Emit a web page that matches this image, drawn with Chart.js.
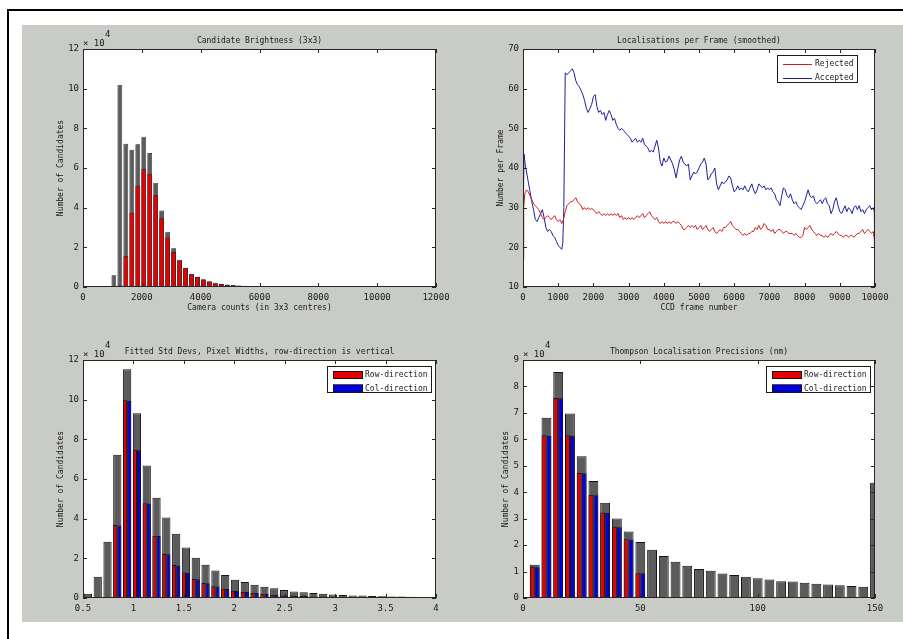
<!DOCTYPE html>
<html>
<head>
<meta charset="utf-8">
<script src="https://cdn.jsdelivr.net/npm/chart.js@4.4.1/dist/chart.umd.min.js"></script>
<style>
html, body { margin: 0; padding: 0; background: #fff; }
#fig { position: relative; width: 903px; height: 639px; overflow: hidden; background: #fff; }
#lineTop { position: absolute; left: 7px; top: 9px; width: 896px; height: 2px; background: #000; }
#lineLeft { position: absolute; left: 7px; top: 9px; width: 2px; height: 630px; background: #000; }
#panel { position: absolute; left: 22px; top: 25px; width: 881px; height: 597px; background: #c9ccc6; }
canvas { position: absolute; }
</style>
</head>
<body>
<div id="fig">
  <div id="lineTop"></div>
  <div id="lineLeft"></div>
  <div id="panel"></div>
  <canvas id="brightness"></canvas>
  <canvas id="perFrame"></canvas>
  <canvas id="stdDevs"></canvas>
  <canvas id="precision"></canvas>
</div>
<script>
// ---- candidate brightness histogram (bin centres, counts) ----
const brightCentres = [1050, 1253, 1456, 1659, 1862, 2065, 2268, 2471, 2674, 2877,
  3080, 3283, 3486, 3689, 3892, 4095, 4298, 4501, 4704, 4907,
  5110, 5313, 5516, 5719, 5922, 6125, 6328, 6531, 6734, 6937,
  7140, 7343, 7546, 7749, 7952, 8155, 8358, 8561, 8764, 8967,
  9170, 9373, 9576, 9779, 9982, 10185, 10388, 10591, 10794, 10997];
const brightAll = [5900, 101900, 72200, 69200, 72000, 75800, 67600, 52500, 38600, 27900,
  19500, 13800, 9700, 6600, 5200, 3900, 2900, 2100, 1700, 1300,
  1000, 800, 600, 500, 450, 400, 350, 300, 300, 280,
  250, 250, 220, 200, 200, 200, 180, 180, 160, 160,
  150, 150, 120, 0, 0, 300, 0, 0, 0, 250];
const brightKept = [0, 700, 15500, 37400, 51000, 59400, 57100, 46200, 34700, 25000,
  17600, 13400, 9400, 6400, 5000, 3700, 2700, 1800, 1500, 1000,
  800, 600, 400, 350, 300, 250, 220, 200, 180, 160,
  150, 140, 120, 110, 100, 100, 90, 90, 80, 80,
  70, 70, 60, 0, 0, 0, 0, 0, 0, 0];

// ---- localisations per frame (smoothed) ----
const rejFrames = [0, 20, 50, 100, 150, 200, 250, 300, 350, 400, 450, 500, 550, 600, 650, 700, 750, 800, 850, 900, 950,
  1000, 1050, 1100, 1150, 1200, 1250, 1300, 1350, 1400, 1450, 1500, 1550, 1600, 1650, 1700, 1750, 1800, 1850, 1900, 1950,
  2000, 2050, 2100, 2150, 2200, 2250, 2300, 2350, 2400, 2450, 2500, 2550, 2600, 2650, 2700, 2750, 2800, 2850, 2900, 2950,
  3000, 3050, 3100, 3150, 3200, 3250, 3300, 3350, 3400, 3450, 3500, 3550, 3600, 3650, 3700, 3750, 3800, 3850, 3900, 3950,
  4000, 4050, 4100, 4150, 4200, 4250, 4300, 4350, 4400, 4450, 4500, 4550, 4600, 4650, 4700, 4750, 4800, 4850, 4900, 4950,
  5000, 5050, 5100, 5150, 5200, 5250, 5300, 5350, 5400, 5450, 5500, 5550, 5600, 5650, 5700, 5750, 5800, 5850, 5900, 5950,
  6000, 6050, 6100, 6150, 6200, 6250, 6300, 6350, 6400, 6450, 6500, 6550, 6600, 6650, 6700, 6750, 6800, 6850, 6900, 6950,
  7000, 7050, 7100, 7150, 7200, 7250, 7300, 7350, 7400, 7450, 7500, 7550, 7600, 7650, 7700, 7750, 7800, 7850, 7900, 7950,
  8000, 8050, 8100, 8150, 8200, 8250, 8300, 8350, 8400, 8450, 8500, 8550, 8600, 8650, 8700, 8750, 8800, 8850, 8900, 8950,
  9000, 9050, 9100, 9150, 9200, 9250, 9300, 9350, 9400, 9450, 9500, 9550, 9600, 9650, 9700, 9750, 9800, 9850, 9900, 9950,
  9980, 10000];
const rejVals = [17, 30, 33.5, 34.5, 34, 33, 32, 31, 30.5, 30, 29.5, 28.5, 27.5, 27, 27.5, 28, 27.5, 27, 27.5, 28, 27,
  26.5, 27, 26, 27, 29, 30.5, 31, 31.5, 31.5, 32, 32.5, 31.5, 31, 30.5, 29.5, 30, 29.5, 30, 29.5, 29.8,
  29.5, 29, 28.5, 29, 28.5, 28, 28.5, 28, 28.5, 28, 28.5, 28, 28.5, 28, 28.5, 27.5, 28, 27, 27.5, 27,
  27.5, 27, 27.5, 27, 27.5, 28, 27.5, 28, 28.5, 27.5, 28, 28.5, 29, 28, 27.5, 27, 27.5, 26.5, 26, 26.5,
  26, 26.5, 26, 26.5, 26, 26.5, 26.5, 26, 26.5, 26, 25.5, 24.5, 24.5, 25, 25.5, 25, 25.5, 25, 25.5, 24.5,
  25, 25.5, 24.5, 25, 25.5, 24.5, 24, 24.5, 25, 24, 23.5, 24, 24.5, 24, 25, 25, 25.5, 26, 26.5, 25.5,
  25, 24.5, 24.5, 24, 23.5, 23, 23.5, 23, 23.5, 23.5, 24, 24, 25, 24.5, 25.5, 24.5, 25, 26, 25.5, 24.5,
  24.5, 24, 24.5, 23.5, 24, 24.5, 24.5, 24, 23.5, 24, 24, 23.5, 23.5, 23.5, 23, 23.5, 23, 22.5, 22.5, 23,
  25, 24.5, 25, 25.5, 24.5, 24, 23.5, 23, 23.5, 23, 23, 22.5, 23, 22.5, 23, 23.5, 23, 23.5, 24, 23.5,
  23, 23, 22.5, 23, 23, 22.5, 23, 23, 22.5, 23, 23.5, 23.5, 24, 24.5, 23.5, 24, 24.5, 24, 23.5, 24,
  22, 12];
const accFrames = [0, 30, 60, 100, 150, 200, 250, 300, 350, 400, 450, 500, 550, 600, 650, 700, 750, 800, 850, 900, 950,
  1000, 1050, 1100, 1130, 1160, 1180, 1200, 1250, 1300, 1350, 1400, 1450, 1500, 1550, 1600, 1650, 1700, 1750, 1800, 1850, 1900, 1950,
  2000, 2050, 2100, 2150, 2200, 2250, 2300, 2350, 2400, 2450, 2500, 2550, 2600, 2650, 2700, 2750, 2800, 2850, 2900, 2950,
  3000, 3050, 3100, 3150, 3200, 3250, 3300, 3350, 3400, 3450, 3500, 3550, 3600, 3650, 3700, 3750, 3800, 3850, 3900, 3950,
  4000, 4050, 4100, 4150, 4200, 4250, 4300, 4350, 4400, 4450, 4500, 4550, 4600, 4650, 4700, 4750, 4800, 4850, 4900, 4950,
  5000, 5050, 5100, 5150, 5200, 5250, 5300, 5350, 5400, 5450, 5500, 5550, 5600, 5650, 5700, 5750, 5800, 5850, 5900, 5950,
  6000, 6050, 6100, 6150, 6200, 6250, 6300, 6350, 6400, 6450, 6500, 6550, 6600, 6650, 6700, 6750, 6800, 6850, 6900, 6950,
  7000, 7050, 7100, 7150, 7200, 7250, 7300, 7350, 7400, 7450, 7500, 7550, 7600, 7650, 7700, 7750, 7800, 7850, 7900, 7950,
  8000, 8050, 8100, 8150, 8200, 8250, 8300, 8350, 8400, 8450, 8500, 8550, 8600, 8650, 8700, 8750, 8800, 8850, 8900, 8950,
  9000, 9050, 9100, 9150, 9200, 9250, 9300, 9350, 9400, 9450, 9500, 9550, 9600, 9650, 9700, 9750, 9800, 9850, 9900, 9950,
  9980, 10000];
const accVals = [24.5, 43.5, 41, 39, 36.5, 34, 31.5, 29.5, 27, 26.5, 27.5, 28.5, 29.5, 27.5, 25, 24, 24.5, 24, 23, 22.5, 21.5,
  20.5, 20, 19.5, 21, 30, 47, 64, 63.5, 64, 64.5, 65, 64, 62, 61, 60.5, 59.5, 58.5, 57, 55, 54, 55, 56,
  58, 58.5, 55.5, 54, 54.5, 53.5, 54, 52, 53.5, 54.5, 53.5, 52, 52.5, 51, 50, 49.5, 50, 49.5, 49, 48.5,
  48, 47.5, 46.5, 47, 47.5, 46.5, 47, 46.5, 47.5, 46, 45.5, 45, 44, 44.5, 44, 45.5, 47, 45, 41.5, 40.5,
  42.5, 41.5, 41.8, 43, 42, 41, 39.5, 37.5, 40, 42, 43, 41.5, 41, 40.5, 41, 37, 38, 39, 38.5, 39,
  40, 41, 41.5, 42.5, 41, 37, 37.5, 38.5, 39, 40, 36, 34.5, 35.5, 36.5, 36, 36.5, 37, 38, 37.5, 35.5,
  34, 34.5, 35.5, 34.5, 35, 34.5, 35.5, 34.5, 34, 35, 36, 34.5, 33.5, 34.5, 36, 35.5, 35, 35.5, 34.5, 35,
  34.5, 35, 34, 33.5, 32, 31.5, 30.5, 33, 35, 34.5, 33, 32.5, 33.5, 32, 31, 31.5, 30.5, 30, 29.5, 30.5,
  31.5, 33, 34.5, 33, 32.5, 33, 31.5, 31, 31.5, 32, 31, 32, 32.5, 31, 30.5, 28.5, 29.5, 31.5, 32.5, 30.5,
  29, 28.5, 29.5, 30.5, 29, 30, 29.5, 28.5, 30, 30.5, 29.5, 30.5, 29, 29.5, 28.5, 29.5, 30, 30.5, 29.5, 30,
  29, 14];

// ---- fitted std devs (pixel widths) ----
const widthCentres = [0.549, 0.646, 0.743, 0.840, 0.938, 1.035, 1.132, 1.229, 1.326, 1.424,
  1.521, 1.618, 1.715, 1.813, 1.910, 2.007, 2.104, 2.201, 2.299, 2.396,
  2.493, 2.590, 2.688, 2.785, 2.882, 2.979, 3.076, 3.174, 3.271, 3.368,
  3.465, 3.563, 3.660, 3.757, 3.854, 3.951];
const widthAll = [2200, 10700, 28400, 72200, 115300, 93100, 66800, 50500, 40600, 32400,
  25500, 20300, 16800, 13900, 11600, 9200, 8100, 6700, 5700, 4900,
  4000, 3300, 2900, 2500, 2200, 1800, 1500, 1300, 1200, 1000,
  900, 800, 700, 600, 500, 500];
const widthRow = [0, 0, 0, 36800, 99700, 74700, 47800, 31400, 22200, 16600,
  12800, 9600, 7600, 5900, 4700, 3700, 3000, 2500, 2000, 1700,
  1300, 1200, 1000, 800, 700, 600, 500, 400, 300, 200,
  200, 100, 100, 0, 0, 0];
const widthCol = [0, 0, 0, 36600, 99500, 74500, 47600, 31200, 22000, 16400,
  12700, 9500, 7500, 5800, 4600, 3700, 3000, 2500, 2000, 1600,
  1300, 1100, 1000, 800, 700, 600, 500, 400, 300, 200,
  200, 100, 100, 0, 0, 0];

// ---- Thompson localisation precisions (nm) ----
const precCentres = [5, 10, 15, 20, 25, 30, 35, 40, 45, 50, 55, 60, 65, 70, 75,
  80, 85, 90, 95, 100, 105, 110, 115, 120, 125, 130, 135, 140, 145, 150];
const precAll = [12600, 68200, 85500, 69800, 53600, 44200, 36000, 30100, 25100, 21200,
  18200, 15900, 13700, 12200, 11000, 10300, 9300, 8700, 8000, 7500,
  7000, 6300, 6200, 5800, 5400, 5100, 4800, 4500, 4300, 43600];
const precRow = [11800, 61500, 75600, 61500, 47300, 39000, 32300, 26900, 22200, 9400,
  null, null, null, null, null, null, null, null, null, null,
  null, null, null, null, null, null, null, null, null, null];
const precCol = [11600, 61400, 75500, 61400, 47200, 38900, 32200, 26800, 22100, 9400,
  null, null, null, null, null, null, null, null, null, null,
  null, null, null, null, null, null, null, null, null, null];

const GREY = '#5b5b5b', EDGE = '#141414', RED = '#e60000', BLUE = '#0000e6';
const TEXT = '#1a1a1a';
const TICK_FONT = { family: 'DejaVu Sans Mono', size: 9 };
const LABEL_FONT = '8px "DejaVu Sans Mono"';
const PAD = { l: 62, t: 30, r: 20, b: 30 };

function pts(xs, ys) {
  return xs.map((x, i) => ({ x: x, y: ys[i] }));
}

// size a canvas so that its chart area lands on the given axes box
function place(id, L, T, R, B) {
  const c = document.getElementById(id);
  c.width = R - L + PAD.l + PAD.r;
  c.height = B - T + PAD.t + PAD.b;
  c.style.left = (L - PAD.l) + 'px';
  c.style.top = (T - PAD.t) + 'px';
  return c;
}

function axes(xmin, xmax, xstep, ymin, ymax, ystep, yDiv) {
  return {
    x: {
      type: 'linear', min: xmin, max: xmax, offset: false,
      grid: { display: false, drawTicks: false }, border: { display: false },
      ticks: { stepSize: xstep, autoSkip: false, maxRotation: 0, padding: 5, color: TEXT, font: TICK_FONT,
        callback: v => String(Math.round(v * 100) / 100) },
      afterFit: s => { s.height = PAD.b; }
    },
    y: {
      type: 'linear', min: ymin, max: ymax,
      grid: { display: false, drawTicks: false }, border: { display: false },
      ticks: { stepSize: ystep, autoSkip: false, padding: 4, color: TEXT, font: TICK_FONT,
        callback: v => String(Math.round(v / yDiv * 100) / 100) },
      afterFit: s => { s.width = PAD.l; }
    }
  };
}

// MATLAB style axes box, inward ticks, titles, exponent and legend
const matlabAxes = {
  id: 'matlabAxes',
  beforeDatasetsDraw(chart) {
    const a = chart.chartArea, ctx = chart.ctx;
    ctx.save();
    ctx.fillStyle = '#fff';
    ctx.fillRect(a.left, a.top, a.right - a.left, a.bottom - a.top);
    ctx.restore();
  },
  afterDraw(chart, args, o) {
    const a = chart.chartArea, ctx = chart.ctx;
    const xs = chart.scales.x, ys = chart.scales.y;
    ctx.save();
    ctx.strokeStyle = '#262626';
    ctx.lineWidth = 1;
    ctx.strokeRect(a.left + 0.5, a.top + 0.5, a.right - a.left - 1, a.bottom - a.top - 1);
    ctx.beginPath();
    xs.ticks.forEach(t => {
      const px = Math.round(xs.getPixelForValue(t.value)) + 0.5;
      ctx.moveTo(px, a.bottom); ctx.lineTo(px, a.bottom - 4);
      ctx.moveTo(px, a.top); ctx.lineTo(px, a.top + 4);
    });
    ys.ticks.forEach(t => {
      const py = Math.round(ys.getPixelForValue(t.value)) + 0.5;
      ctx.moveTo(a.left, py); ctx.lineTo(a.left + 4, py);
      ctx.moveTo(a.right, py); ctx.lineTo(a.right - 4, py);
    });
    ctx.stroke();

    ctx.fillStyle = TEXT;
    ctx.font = LABEL_FONT;
    ctx.textAlign = 'center';
    ctx.textBaseline = 'middle';
    const cx = (a.left + a.right) / 2, cy = (a.top + a.bottom) / 2;
    if (o.title) ctx.fillText(o.title, cx, a.top - 8);
    if (o.xlabel) ctx.fillText(o.xlabel, cx, a.bottom + 21);
    if (o.ylabel) {
      ctx.save();
      ctx.translate(a.left - o.ylabelGap, cy);
      ctx.rotate(-Math.PI / 2);
      ctx.fillText(o.ylabel, 0, 0);
      ctx.restore();
    }
    if (o.exponent) {
      ctx.textAlign = 'left';
      ctx.textBaseline = 'alphabetic';
      ctx.font = '9px "DejaVu Sans Mono"';
      ctx.fillText('\u00d7 10', a.left, a.top - 3);
      ctx.fillText(o.exponent, a.left + 22, a.top - 12);
    }

    const lg = o.legend;
    if (lg) {
      const bx = a.right - lg.right - lg.w, by = a.top + lg.top;
      ctx.fillStyle = '#fff';
      ctx.fillRect(bx, by, lg.w, lg.h);
      ctx.strokeStyle = '#1a1a1a';
      ctx.strokeRect(bx + 0.5, by + 0.5, lg.w - 1, lg.h - 1);
      ctx.font = LABEL_FONT;
      ctx.textAlign = 'left';
      ctx.textBaseline = 'middle';
      lg.items.forEach((idx, i) => {
        const ds = chart.data.datasets[idx];
        const rowY = by + 5 + i * 13.5 + 4;
        if (lg.kind === 'line') {
          ctx.strokeStyle = ds.borderColor;
          ctx.beginPath();
          ctx.moveTo(bx + 6, Math.round(rowY) + 0.5);
          ctx.lineTo(bx + 35, Math.round(rowY) + 0.5);
          ctx.stroke();
          ctx.fillStyle = TEXT;
          ctx.fillText(ds.label, bx + 38, rowY);
        } else {
          ctx.fillStyle = ds.backgroundColor;
          ctx.fillRect(bx + 6, rowY - 4, 30, 8);
          ctx.strokeStyle = EDGE;
          ctx.strokeRect(bx + 6.5, rowY - 3.5, 29, 7);
          ctx.fillStyle = TEXT;
          ctx.fillText(ds.label, bx + 38, rowY);
        }
      });
    }
    ctx.restore();
  }
};

function barSet(label, xs, ys, color, grouped, edge, width) {
  return {
    label: label, data: pts(xs, ys), backgroundColor: color, borderColor: EDGE, borderWidth: edge,
    borderSkipped: false, grouped: grouped, categoryPercentage: width, barPercentage: 1, clip: 0
  };
}

const common = {
  responsive: false, animation: false, devicePixelRatio: 1,
  layout: { autoPadding: false, padding: { left: 0, top: PAD.t, right: PAD.r, bottom: 0 } }
};

function opts(scales, frame) {
  return Object.assign({}, common, {
    scales: scales,
    plugins: { legend: { display: false }, tooltip: { enabled: false }, matlabAxes: frame }
  });
}

new Chart(place('brightness', 83, 49, 436, 287), {
  type: 'bar',
  data: { datasets: [
    barSet('Accepted', brightCentres, brightKept, RED, false, 0.7, 0.8),
    barSet('All', brightCentres, brightAll, GREY, false, 0.7, 0.8)
  ] },
  options: opts(axes(0, 12000, 2000, 0, 120000, 20000, 10000), {
    title: 'Candidate Brightness (3x3)', xlabel: 'Camera counts (in 3x3 centres)',
    ylabel: 'Number of Candidates', ylabelGap: 22, exponent: '4'
  }),
  plugins: [matlabAxes]
});

new Chart(place('perFrame', 523, 49, 875, 287), {
  type: 'line',
  data: { datasets: [
    { label: 'Rejected', data: pts(rejFrames, rejVals), borderColor: '#cf1d1d', borderWidth: 1, pointRadius: 0, tension: 0 },
    { label: 'Accepted', data: pts(accFrames, accVals), borderColor: '#1f1f9c', borderWidth: 1, pointRadius: 0, tension: 0 }
  ] },
  options: opts(axes(0, 10000, 1000, 10, 70, 10, 1), {
    title: 'Localisations per Frame (smoothed)', xlabel: 'CCD frame number',
    ylabel: 'Number per Frame', ylabelGap: 22,
    legend: { kind: 'line', right: 17, top: 6, w: 81, h: 28, items: [0, 1] }
  }),
  plugins: [matlabAxes]
});

new Chart(place('stdDevs', 83, 360, 436, 598), {
  type: 'bar',
  data: { datasets: [
    barSet('Row-direction', widthCentres, widthRow, RED, true, 1, 0.84),
    barSet('Col-direction', widthCentres, widthCol, BLUE, true, 1, 0.84),
    barSet('All', widthCentres, widthAll, GREY, false, 1, 0.84)
  ] },
  options: opts(axes(0.5, 4, 0.5, 0, 120000, 20000, 10000), {
    title: 'Fitted Std Devs, Pixel Widths, row-direction is vertical',
    ylabel: 'Number of Candidates', ylabelGap: 22, exponent: '4',
    legend: { kind: 'bar', right: 4, top: 6, w: 105, h: 27, items: [0, 1] }
  }),
  plugins: [matlabAxes]
});

new Chart(place('precision', 523, 360, 875, 598), {
  type: 'bar',
  data: { datasets: [
    barSet('Row-direction', precCentres, precRow, RED, true, 1, 0.84),
    barSet('Col-direction', precCentres, precCol, BLUE, true, 1, 0.84),
    barSet('All', precCentres, precAll, GREY, false, 1, 0.84)
  ] },
  options: opts(axes(0, 150, 50, 0, 90000, 10000, 10000), {
    title: 'Thompson Localisation Precisions (nm)',
    ylabel: 'Number of Candidates', ylabelGap: 17, exponent: '4',
    legend: { kind: 'bar', right: 4, top: 6, w: 105, h: 27, items: [0, 1] }
  }),
  plugins: [matlabAxes]
});
</script>
</body>
</html>
